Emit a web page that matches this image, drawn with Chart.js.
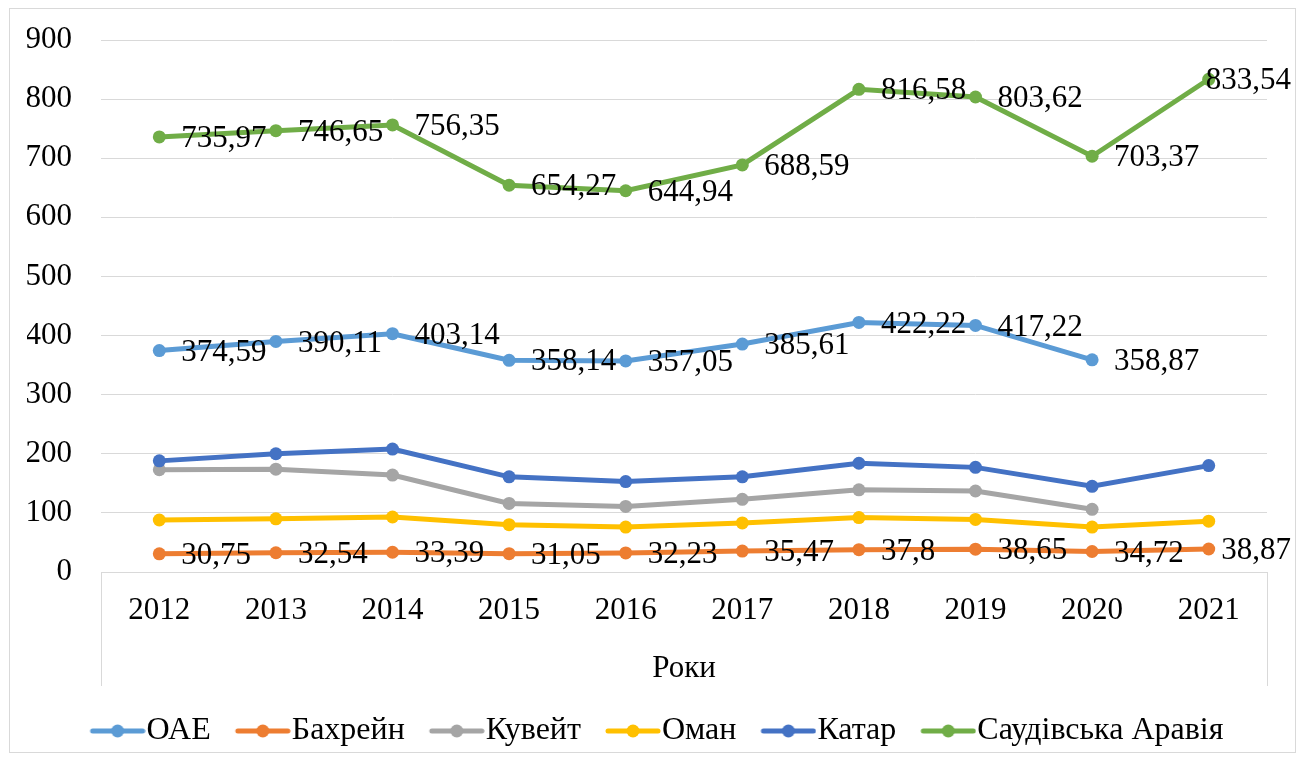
<!DOCTYPE html>
<html>
<head>
<meta charset="utf-8">
<script src="https://cdn.jsdelivr.net/npm/chart.js@4"></script>
<style>
  html, body { margin: 0; padding: 0; background: #fff; }
  #wrap { width: 1305px; height: 760px; }
</style>
</head>
<body>
<div id="wrap"><canvas id="chart" width="1305" height="760"></canvas></div>
<script>
// роки
const years = ['2012', '2013', '2014', '2015', '2016', '2017', '2018', '2019', '2020', '2021'];

// значення по країнах
const uae = [374.59, 390.11, 403.14, 358.14, 357.05, 385.61, 422.22, 417.22, 358.87, null];
const bahrain = [30.75, 32.54, 33.39, 31.05, 32.23, 35.47, 37.8, 38.65, 34.72, 38.87];
const kuwait = [173, 174, 164, 116, 111, 123, 139, 137, 106, null];
const oman = [88, 90, 93, 80, 76, 83, 92, 89, 76, 86];
const qatar = [188, 200, 208, 161, 153, 161, 184, 177, 145, 180];
const saudi = [735.97, 746.65, 756.35, 654.27, 644.94, 688.59, 816.58, 803.62, 703.37, 833.54];

const seriesNames = ['ОАЕ', 'Бахрейн', 'Кувейт', 'Оман', 'Катар', 'Саудівська Аравія'];
const seriesColors = ['#5B9BD5', '#ED7D31', '#A5A5A5', '#FFC000', '#4472C4', '#70AD47'];
const labelledSeries = [0, 1, 5];  // ряди з підписами значень

const FONT = '"Liberation Serif", "Times New Roman", serif';

// маркер легенди: лінія з кружечком (ліва частина порожня - відступ між пунктами)
function legendMarker(color) {
    const c = document.createElement('canvas');
    c.width = 90;
    c.height = 16;
    const g = c.getContext('2d');
    g.strokeStyle = color;
    g.lineWidth = 5;
    g.lineCap = 'round';
    g.beginPath();
    g.moveTo(37, 8);
    g.lineTo(87, 8);
    g.stroke();
    g.fillStyle = color;
    g.beginPath();
    g.arc(62, 8, 6.5, 0, Math.PI * 2);
    g.fill();
    return c;
}
const markers = seriesColors.map(legendMarker);

// рамка навколо діаграми та лінії під віссю
const framePlugin = {
    id: 'frame',
    beforeDraw(chart) {
        const ctx = chart.ctx;
        ctx.save();
        ctx.strokeStyle = '#d9d9d9';
        ctx.lineWidth = 1;
        ctx.strokeRect(9.5, 8.5, 1286, 744);
        const x = chart.scales.x;
        ctx.beginPath();
        ctx.moveTo(Math.round(x.left) + 0.5, x.top);
        ctx.lineTo(Math.round(x.left) + 0.5, x.top + 114);
        ctx.moveTo(Math.round(x.right) + 0.5, x.top);
        ctx.lineTo(Math.round(x.right) + 0.5, x.top + 114);
        ctx.stroke();
        ctx.restore();
    }
};

// підписи значень праворуч від точок
const labelPlugin = {
    id: 'valueLabels',
    afterDatasetsDraw(chart) {
        const ctx = chart.ctx;
        ctx.save();
        ctx.font = '31px ' + FONT;
        ctx.fillStyle = '#000';
        ctx.textAlign = 'left';
        ctx.textBaseline = 'middle';
        labelledSeries.forEach(i => {
            const meta = chart.getDatasetMeta(i);
            const values = chart.data.datasets[i].data;
            meta.data.forEach((pt, j) => {
                const v = values[j];
                if (v === null || v === undefined) return;
                const txt = String(v).replace('.', ',');
                const w = ctx.measureText(txt).width;
                let x = pt.x + 22;
                if (x + w > 1291) x = 1291 - w;
                ctx.fillText(txt, x, pt.y + 2);
            });
        });
        ctx.restore();
    }
};

const datasets = [uae, bahrain, kuwait, oman, qatar, saudi].map((values, i) => ({
    label: seriesNames[i],
    data: values,
    borderColor: seriesColors[i],
    backgroundColor: seriesColors[i],
    borderWidth: 5,
    pointRadius: 6.5,
    pointHoverRadius: 6.5,
    pointBorderWidth: 0,
    tension: 0,
    order: 6 - i
}));

new Chart(document.getElementById('chart'), {
    type: 'line',
    data: { labels: years, datasets: datasets },
    plugins: [framePlugin, labelPlugin],
    options: {
        responsive: false,
        animation: false,
        layout: { padding: { top: 40, left: 27, right: 38, bottom: 3 } },
        scales: {
            x: {
                offset: true,
                grid: { display: false, drawTicks: false },
                border: { display: true, color: '#d9d9d9', width: 1 },
                ticks: { color: '#000', font: { family: FONT, size: 31 }, padding: 20, maxRotation: 0 },
                title: { display: true, text: 'Роки', color: '#000', font: { family: FONT, size: 31 }, padding: { top: 0, bottom: 23 } },
                afterFit(scale) { scale.height = 138; }
            },
            y: {
                min: 0,
                max: 900,
                ticks: { stepSize: 100, color: '#000', font: { family: FONT, size: 31 }, padding: 29 },
                grid: { color: '#d9d9d9', drawTicks: false },
                border: { display: false },
                afterFit(scale) {
                    scale.width = 74;
                    scale.paddingTop = 0;
                    scale.paddingBottom = 0;
                }
            }
        },
        plugins: {
            legend: {
                position: 'bottom',
                labels: {
                    usePointStyle: true,
                    pointStyleWidth: 60,
                    padding: 5,
                    color: '#000',
                    font: { family: FONT, size: 32 },
                    generateLabels(chart) {
                        return chart.data.datasets.map((ds, i) => ({
                            text: ds.label,
                            pointStyle: markers[i],
                            fillStyle: ds.borderColor,
                            strokeStyle: ds.borderColor,
                            lineWidth: 0,
                            fontColor: '#000',
                            hidden: !chart.isDatasetVisible(i),
                            datasetIndex: i
                        }));
                    }
                }
            },
            tooltip: { enabled: false }
        }
    }
});
</script>
</body>
</html>
